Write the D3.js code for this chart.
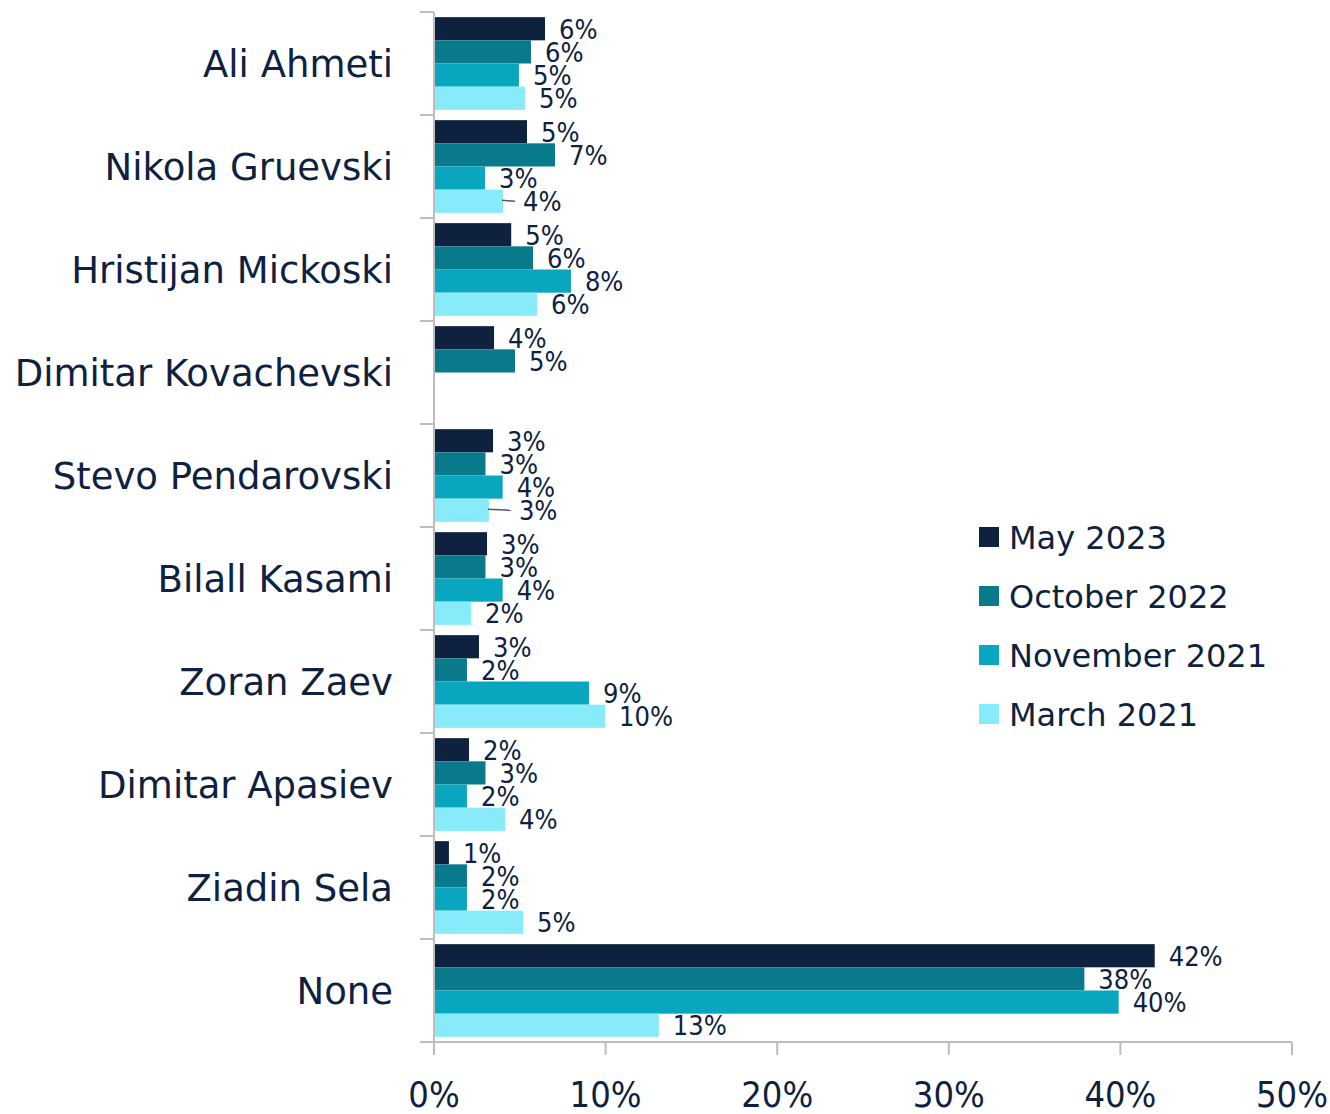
<!DOCTYPE html>
<html>
<head>
<meta charset="utf-8">
<script src="https://cdn.jsdelivr.net/npm/d3@7"></script>
<style>
  body { margin: 0; background: #fff; }
  svg { display: block; font-family: "DejaVu Sans Condensed", "DejaVu Sans", sans-serif; }
</style>
</head>
<body>
<div id="chart"></div>
<script>
// ── Data ──
const categories = ['Ali Ahmeti', 'Nikola Gruevski', 'Hristijan Mickoski', 'Dimitar Kovachevski',
  'Stevo Pendarovski', 'Bilall Kasami', 'Zoran Zaev', 'Dimitar Apasiev', 'Ziadin Sela', 'None'];
const seriesNames = ['May 2023', 'October 2022', 'November 2021', 'March 2021'];
const may2023 = [6.47, 5.42, 4.5, 3.5, 3.44, 3.09, 2.62, 2.04, 0.87, 42.0];
const oct2022 = [5.65, 7.05, 5.77, 4.72, 3.0, 3.0, 1.92, 3.0, 1.92, 37.9];
const nov2021 = [4.95, 2.97, 7.98, null, 4.0, 4.0, 9.03, 1.92, 1.92, 39.9];
const mar2021 = [5.3, 4.02, 6.0, null, 3.2, 2.16, 9.97, 4.14, 5.19, 13.1];
const xTicks = [0, 10, 20, 30, 40, 50];
// labels pulled away from their bar with a leader line
const leaderLabels = [
  { cat: 'Nikola Gruevski', series: 'March 2021', shift: 6 },
  { cat: 'Stevo Pendarovski', series: 'March 2021', shift: 16 }
];

const seriesValues = [may2023, oct2022, nov2021, mar2021];
const colors = ['#0e223f', '#087a8c', '#08a7bf', '#87ebf9'];
const textColor = '#0e223f';
const axisColor = '#bdbdbd';
const wideFont = '"DejaVu Sans", sans-serif';

const W = 1330, H = 1114;
const plotL = 434, plotR = 1292, plotT = 12, plotB = 1042;

const svg = d3.select('#chart').append('svg').attr('width', W).attr('height', H);

const x = d3.scaleLinear().domain([0, 50]).range([plotL, plotR]);
const y = d3.scaleBand().domain(categories).range([plotT, plotB]).paddingInner(0.1).paddingOuter(0.05);
const ySub = d3.scaleBand().domain(seriesNames).range([0, y.bandwidth()]);

// flatten rows
const rows = [];
categories.forEach(function(c, i) {
  seriesNames.forEach(function(s, j) {
    const v = seriesValues[j][i];
    if (v == null) return;
    const lead = leaderLabels.find(function(l) { return l.cat === c && l.series === s; });
    rows.push({ cat: c, series: s, value: v, color: colors[j], shift: lead ? lead.shift : 0, lead: !!lead });
  });
});

// ── Bars ──
svg.append('g').selectAll('rect').data(rows).join('rect')
  .attr('x', x(0))
  .attr('y', function(d) { return y(d.cat) + ySub(d.series); })
  .attr('width', function(d) { return x(d.value) - x(0); })
  .attr('height', ySub.bandwidth())
  .attr('fill', function(d) { return d.color; });

// ── Axes ──
const axes = svg.append('g').attr('stroke', axisColor).attr('stroke-width', 2);
axes.append('line').attr('x1', plotL).attr('x2', plotL).attr('y1', plotT).attr('y2', plotB + 1);
axes.append('line').attr('x1', plotL - 14).attr('x2', plotR).attr('y1', plotB).attr('y2', plotB);
// category boundaries
const bounds = categories.map(function(c) { return y(c) - y.step() * y.paddingInner() / 2; }).concat([plotB]);
axes.selectAll('.ct').data(bounds).join('line')
  .attr('x1', plotL - 14).attr('x2', plotL).attr('y1', function(d) { return d; }).attr('y2', function(d) { return d; });
axes.selectAll('.xt').data(xTicks).join('line')
  .attr('x1', function(d) { return x(d); }).attr('x2', function(d) { return x(d); })
  .attr('y1', plotB).attr('y2', plotB + 13);

svg.append('g').selectAll('text').data(xTicks).join('text')
  .attr('x', function(d) { return x(d); })
  .attr('y', 1107)
  .attr('text-anchor', 'middle')
  .attr('font-size', 36)
  .attr('fill', textColor)
  .text(function(d) { return d + '%'; });

// category labels
svg.append('g').selectAll('text').data(categories).join('text')
  .attr('x', 393)
  .attr('y', function(d) { return y(d) + y.bandwidth() / 2 + 13; })
  .attr('text-anchor', 'end')
  .attr('font-family', wideFont)
  .attr('font-size', 37)
  .attr('fill', textColor)
  .text(function(d) { return d; });

// ── Value labels ──
svg.append('g').selectAll('text').data(rows).join('text')
  .attr('x', function(d) { return x(d.value) + 14 + d.shift; })
  .attr('y', function(d) { return y(d.cat) + ySub(d.series) + ySub.bandwidth() / 2 + 10; })
  .attr('font-size', 27)
  .attr('fill', textColor)
  .text(function(d) { return Math.round(d.value) + '%'; });

svg.append('g').selectAll('line').data(rows.filter(function(d) { return d.lead; })).join('line')
  .attr('x1', function(d) { return x(d.value) - 1; })
  .attr('x2', function(d) { return x(d.value) + 6 + d.shift; })
  .attr('y1', function(d) { return y(d.cat) + ySub(d.series) + ySub.bandwidth() / 2 - 1; })
  .attr('y2', function(d) { return y(d.cat) + ySub(d.series) + ySub.bandwidth() / 2; })
  .attr('stroke', '#4a5a70').attr('stroke-width', 1.5);

// ── Legend ──
const legend = svg.append('g').selectAll('g').data(seriesNames).join('g')
  .attr('transform', function(d, i) { return 'translate(979,' + (537 + i * 59) + ')'; });
legend.append('rect').attr('x', 0).attr('y', -10).attr('width', 20).attr('height', 20)
  .attr('fill', function(d, i) { return colors[i]; });
legend.append('text').attr('x', 30).attr('y', 12)
  .attr('font-family', wideFont).attr('font-size', 32)
  .attr('fill', textColor).text(function(d) { return d; });
</script>
</body>
</html>
